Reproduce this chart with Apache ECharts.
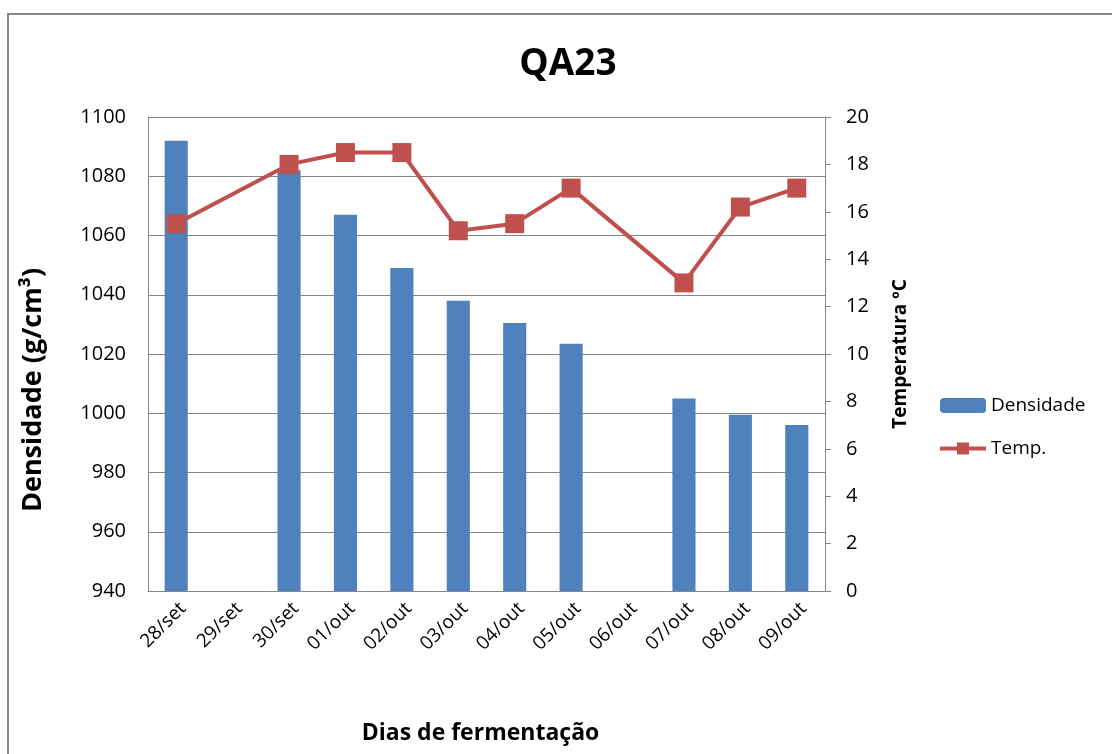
<!DOCTYPE html>
<html>
<head>
<meta charset="utf-8">
<script src="https://cdn.jsdelivr.net/npm/echarts@6/dist/echarts.min.js"></script>
<style>
  html, body { margin: 0; padding: 0; background: #fff; }
  #chart { width: 1112px; height: 754px; }
</style>
</head>
<body>
<div id="chart"></div>
<script>
  // dias de fermentação
  const dias = ["28/set", "29/set", "30/set", "01/out", "02/out", "03/out", "04/out", "05/out", "06/out", "07/out", "08/out", "09/out"];
  // densidade (g/cm3) - sem medição em 29/set e 06/out
  const densidade = [1092, null, 1082, 1067, 1049, 1038, 1030.5, 1023.5, null, 1005, 999.5, 996];
  // temperatura ºC
  const temperatura = [15.5, null, 18, 18.5, 18.5, 15.2, 15.5, 17, null, 13, 16.2, 17];

  const fonte = "'Open Sans', 'Noto Sans', sans-serif";
  const chart = echarts.init(document.getElementById("chart"));

  const option = {
    backgroundColor: "#fff",
    textStyle: { fontFamily: fonte },
    title: {
      text: "QA23",
      left: 563,
      textAlign: "center",
      top: 41,
      textStyle: { fontSize: 37, fontWeight: "bold", color: "#000", fontFamily: fonte },
    },
    graphic: [
      {
        type: "rect",
        shape: { x: 8, y: 14, width: 1200, height: 800 },
        style: { fill: "none", stroke: "#868686", lineWidth: 2 },
        silent: true,
      },
    ],
    grid: { left: 148, right: 287, top: 117, bottom: 163, outerBoundsMode: "none" },
    legend: {
      orient: "vertical",
      left: 938,
      top: 396,
      padding: 0,
      itemWidth: 46,
      itemHeight: 15,
      itemGap: 24,
      textStyle: { fontSize: 19, color: "#000", fontFamily: fonte },
      data: [
        { name: "Densidade" },
        { name: "Temp.", lineStyle: { width: 4 }, itemStyle: { color: "#C0504D" } },
      ],
    },
    xAxis: {
      type: "category",
      data: dias,
      name: "Dias de fermentação",
      nameLocation: "middle",
      nameGap: 131,
      nameTextStyle: { fontSize: 23, fontWeight: "bold", color: "#000", padding: [0, 12, 0, 0] },
      axisLine: { lineStyle: { color: "#868686", width: 1 } },
      axisTick: { show: false },
      axisLabel: { rotate: 45, fontSize: 19, color: "#000", margin: 8, interval: 0, verticalAlign: "top" },
    },
    yAxis: [
      {
        type: "value",
        min: 940,
        max: 1100,
        interval: 20,
        name: "Densidade (g/cm³)",
        nameLocation: "middle",
        nameGap: 101,
        nameTextStyle: { fontSize: 27, fontWeight: "bold", color: "#000", padding: [0, 72, 0, 0] },
        axisLine: { show: true, lineStyle: { color: "#868686" } },
        axisTick: { show: false },
        axisLabel: { fontSize: 20, color: "#000", margin: 22, formatter: (v) => String(v) },
        splitLine: { lineStyle: { color: "#868686", width: 1 } },
      },
      {
        type: "value",
        min: 0,
        max: 20,
        interval: 2,
        name: "Temperatura ºC",
        nameLocation: "middle",
        nameGap: 66,
        nameTextStyle: { fontSize: 19, fontWeight: "bold", color: "#000" },
        axisLine: { show: true, lineStyle: { color: "#868686" } },
        axisTick: { show: true, inside: false, length: 6, lineStyle: { color: "#868686" } },
        axisLabel: { fontSize: 20, color: "#000", margin: 21 },
        splitLine: { show: false },
      },
    ],
    series: [
      {
        name: "Densidade",
        type: "bar",
        yAxisIndex: 0,
        barWidth: "41%",
        itemStyle: { color: "#4F81BD" },
        data: densidade,
      },
      {
        name: "Temp.",
        type: "line",
        yAxisIndex: 1,
        connectNulls: true,
        symbol: "rect",
        symbolSize: 19,
        lineStyle: { color: "#C0504D", width: 4 },
        itemStyle: { color: "#C0504D" },
        data: temperatura,
      },
    ],
  };
  chart.setOption(option);
</script>
</body>
</html>
